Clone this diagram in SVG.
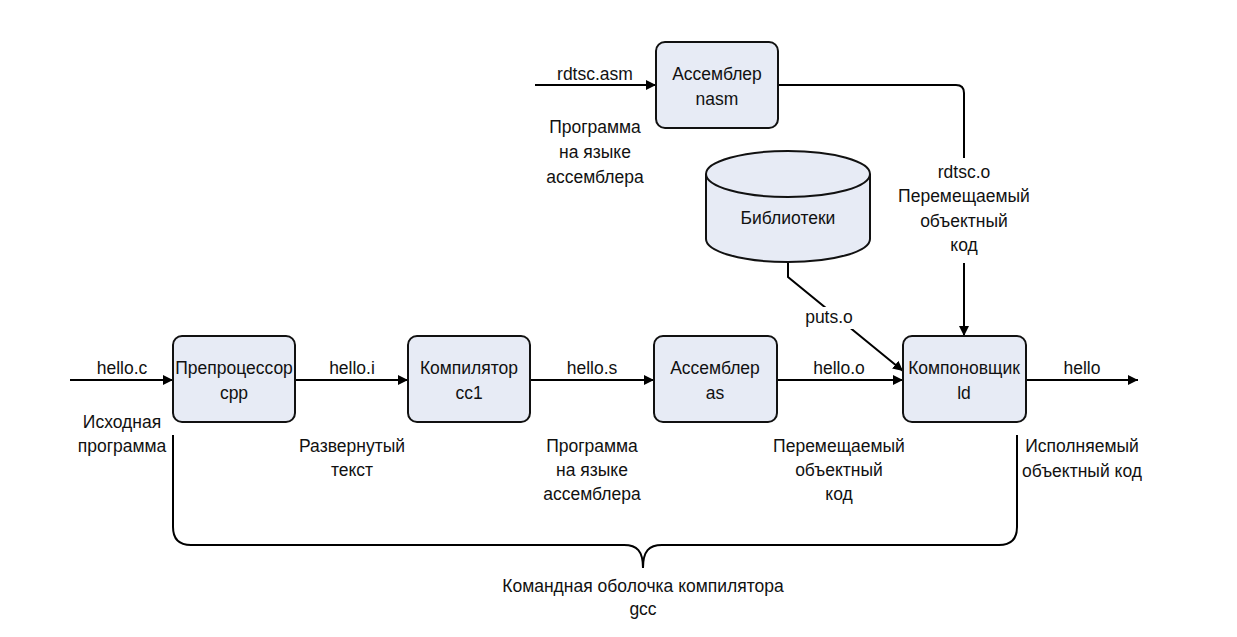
<svg xmlns="http://www.w3.org/2000/svg" width="1237" height="637" viewBox="0 0 1237 637">
<defs>
<marker id="arr" viewBox="0 0 10 10" refX="10" refY="5" markerWidth="10" markerHeight="10" markerUnits="userSpaceOnUse" orient="auto">
<path d="M0,0 L10,5 L0,10 z" fill="#000"/>
</marker>
<style>
.box{fill:#E7EBF5;stroke:#111;stroke-width:2}
.ln{fill:none;stroke:#000;stroke-width:2}
text{font-family:"Liberation Sans",Arial,sans-serif;font-size:17.5px;fill:#111;text-anchor:middle}
</style>
</defs>
<rect width="1237" height="637" fill="#fff"/>

<g id="connectors">
<path class="ln" d="M70,380 H173" marker-end="url(#arr)"/>
<path class="ln" d="M295,380 H408" marker-end="url(#arr)"/>
<path class="ln" d="M530,380 H654" marker-end="url(#arr)"/>
<path class="ln" d="M777,380 H903" marker-end="url(#arr)"/>
<path class="ln" d="M1026,380 H1138" marker-end="url(#arr)"/>
<path class="ln" d="M535,85 H656" marker-end="url(#arr)"/>
<path class="ln" d="M778,85 H956 Q964,85 964,93 V158"/>
<path class="ln" d="M964,263 V336" marker-end="url(#arr)"/>
<path class="ln" d="M788,262 V277 L903,371" marker-end="url(#arr)"/>
<rect x="803" y="307" width="52" height="22" fill="#fff"/>
<path class="ln" d="M173,435 V527 Q173,545 191,545 H624 C637,545 643,551 643,568 C643,551 649,545 662,545 H999 Q1017,545 1017,527 V435"/>
</g>

<g id="labels">
<text x="122" y="374">hello.c</text>
<text x="122" y="428">Исходная</text>
<text x="122" y="452">программа</text>
<text x="352" y="374">hello.i</text>
<text x="352" y="452">Развернутый</text>
<text x="352" y="476">текст</text>
<text x="592" y="374">hello.s</text>
<text x="592" y="452">Программа</text>
<text x="592" y="476">на языке</text>
<text x="592" y="500">ассемблера</text>
<text x="839" y="374">hello.o</text>
<text x="839" y="452">Перемещаемый</text>
<text x="839" y="476">объектный</text>
<text x="839" y="500">код</text>
<text x="1082" y="374">hello</text>
<text x="1082" y="452">Исполняемый</text>
<text x="1082" y="477">объектный код</text>
<text x="829" y="323">puts.o</text>
<text x="595" y="80">rdtsc.asm</text>
<text x="595" y="133">Программа</text>
<text x="595" y="158">на языке</text>
<text x="595" y="183">ассемблера</text>
<text x="964" y="178">rdtsc.o</text>
<text x="964" y="202">Перемещаемый</text>
<text x="964" y="227">объектный</text>
<text x="964" y="251">код</text>
<text x="643" y="592">Командная оболочка компилятора</text>
<text x="643" y="615">gcc</text>
</g>

<g id="cpp">
<rect class="box" x="173" y="336" width="122" height="86" rx="9"/>
<text x="234" y="374">Препроцессор</text>
<text x="234" y="399">cpp</text>
</g>
<g id="cc1">
<rect class="box" x="408" y="336" width="122" height="86" rx="9"/>
<text x="469" y="374">Компилятор</text>
<text x="469" y="399">cc1</text>
</g>
<g id="as">
<rect class="box" x="654" y="336" width="123" height="86" rx="9"/>
<text x="715" y="374">Ассемблер</text>
<text x="715" y="399">as</text>
</g>
<g id="ld">
<rect class="box" x="903" y="336" width="123" height="86" rx="9"/>
<text x="964" y="374">Компоновщик</text>
<text x="964" y="399">ld</text>
</g>
<g id="nasm">
<rect class="box" x="656" y="42" width="122" height="86" rx="9"/>
<text x="717" y="80">Ассемблер</text>
<text x="717" y="105">nasm</text>
</g>
<g id="libs">
<path class="box" d="M706,174 V239 A82,23 0 0 0 870,239 V174 A82,23 0 0 0 706,174 z"/>
<path class="ln" d="M706,174 A82,23 0 0 0 870,174" style="stroke:#111"/>
<text x="788" y="224">Библиотеки</text>
</g>
</svg>
